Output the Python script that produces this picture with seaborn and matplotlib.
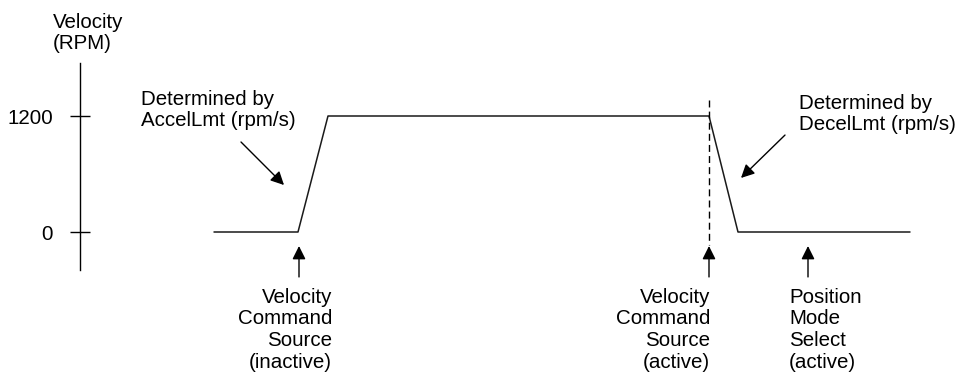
import matplotlib
matplotlib.use("Agg")
import matplotlib.pyplot as plt
import pandas as pd
import seaborn as sns

# velocity profile (time in arbitrary units, velocity in RPM)
time = [21.4, 29.8, 32.8, 70.9, 73.8, 91.0]
velocity = [0, 0, 1200, 1200, 0, 0]
ytick_values = [0, 1200]
axis_label = "Velocity\n(RPM)"

accel_note = "Determined by\nAccelLmt (rpm/s)"
decel_note = "Determined by\nDecelLmt (rpm/s)"

# events marked with up-arrows under the profile
event_times = [29.9, 70.9, 80.8]
event_labels = [
    "Velocity\nCommand\nSource\n(inactive)",
    "Velocity\nCommand\nSource\n(active)",
    "Position\nMode\nSelect\n(active)",
]

sns.set_theme(style="white")
plt.rcParams["font.family"] = ["Liberation Sans", "DejaVu Sans"]
plt.rcParams["text.color"] = "black"
FS = 14.8
LS = 1.18

df = pd.DataFrame({"time": time, "velocity": velocity})

fig = plt.figure(figsize=(9.65, 3.77), dpi=100)
ax = fig.add_axes([0, 0, 1, 1])
sns.lineplot(data=df, x="time", y="velocity", color="#1a1a1a", lw=1.1, ax=ax)

ax.set_xlim(0, 96.5)
ax.set_ylim(-1500, 2400)

for side in ("top", "right", "bottom"):
    ax.spines[side].set_visible(False)
ax.spines["left"].set_position(("data", 8.0))
ax.spines["left"].set_bounds(-390, 1750)
ax.spines["left"].set_color("black")
ax.spines["left"].set_linewidth(1.0)
ax.set_xticks([])
ax.set_yticks(ytick_values)
ax.set_yticklabels([str(v) for v in ytick_values])
ax.tick_params(axis="y", direction="inout", length=15, width=1.0, pad=12,
               labelsize=FS, colors="black", left=True)
ax.set_xlabel("")
ax.set_ylabel("")

ax.text(5.3, 2060, axis_label, fontsize=FS, ha="left", va="center",
        multialignment="left", linespacing=LS)

# dashed marker where the command source becomes active
ax.plot([event_times[1], event_times[1]], [1366, -134], color="black",
        lw=1.0, ls=(0, (5, 3)))

arrow = dict(arrowstyle="-|>,head_length=0.4,head_width=0.2",
             mutation_scale=20, color="black", lw=1.0,
             shrinkA=0, shrinkB=0)

ax.text(14.1, 1262, accel_note, fontsize=FS, ha="left", va="center",
        linespacing=LS)
ax.annotate("", xy=(28.4, 486), xytext=(24.1, 931), arrowprops=arrow)

ax.text(79.9, 1221, decel_note, fontsize=FS, ha="left", va="center",
        linespacing=LS)
ax.annotate("", xy=(74.1, 559), xytext=(78.5, 1003), arrowprops=arrow)

label_x = [33.2, 71.0, 78.9]
label_ha = ["right", "right", "left"]
for t, lab, lx, ha in zip(event_times, event_labels, label_x, label_ha):
    ax.annotate("", xy=(t, -145), xytext=(t, -465), arrowprops=arrow,
                annotation_clip=False)
    ax.text(lx, -1010, lab, fontsize=FS, ha=ha, va="center",
            multialignment=ha, linespacing=LS)

fig.savefig("out.png", dpi=100, facecolor="white")
